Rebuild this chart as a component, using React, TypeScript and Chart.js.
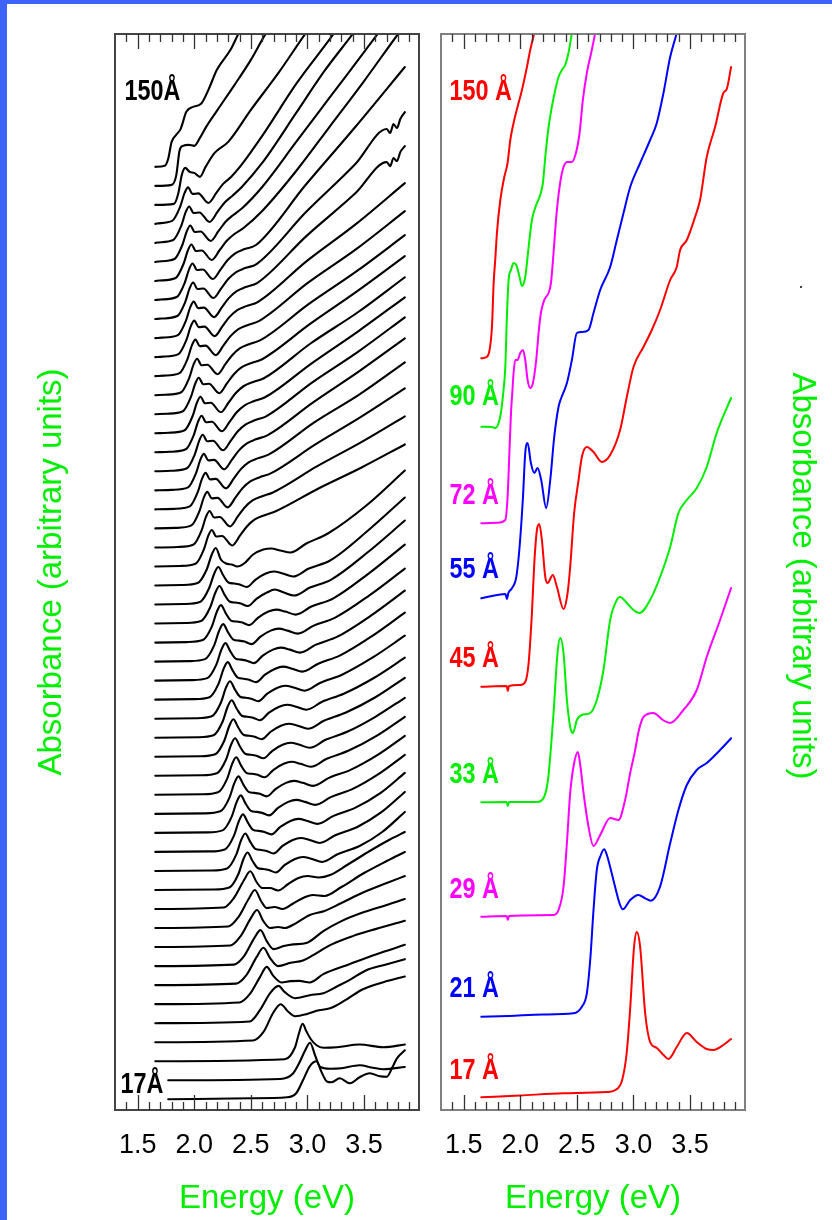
import React, { useEffect, useRef } from "react";
import { Chart, registerables } from "chart.js";

Chart.register(...registerables);

// ---------- axes ----------
const E_MIN = 1.3;
const E_MAX = 3.985;
const Y_MAX = 1076; // arbitrary absorbance units (stacked)
const TICKS_ALL = [1.4, 1.5, 1.6, 1.7, 1.8, 1.9, 2.0, 2.1, 2.2, 2.3, 2.4, 2.5, 2.6, 2.7, 2.8, 2.9, 3.0, 3.1, 3.2, 3.3, 3.4, 3.5, 3.6, 3.7, 3.8, 3.9];
const TICKS_MAJOR = [1.5, 2.0, 2.5, 3.0, 3.5];
const TICK_LABELS = ["1.5", "2.0", "2.5", "3.0", "3.5"];
const X_TITLE = "Energy (eV)";
const Y_TITLE = "Absorbance (arbitrary units)";

// ---------- left panel: 50 spectra, bottom (17 Å) to top (150 Å) ----------
// each row: [energy, absorbance above its own baseline, ...]
const LEFT_OFFSET0 = 10.7;
const LEFT_OFFSET_STEP = 19.03;
const LEFT_SPECTRA: number[][] = [
  [1.77,0, 2.5,1, 2.82,2, 2.9,6, 2.96,19, 3.02,33, 3.08,38, 3.125,27, 3.17,18, 3.21,17, 3.285,21, 3.375,16, 3.46,22, 3.55,26, 3.64,23, 3.7,22.5, 3.75,32, 3.79,41, 3.86,49],
  [1.77,0, 2.76,1.3, 2.87,6.5, 2.93,18, 2.98,30, 3.022,37.5, 3.07,24, 3.11,13.5, 3.2,11.5, 3.3,12, 3.46,15, 3.58,12.5, 3.67,11, 3.86,13.3],
  [1.656,0, 2.8,2, 2.89,14, 2.925,28, 2.957,37.5, 2.99,30, 3.03,22, 3.08,16, 3.14,13.5, 3.26,14, 3.46,16.7, 3.67,14, 3.86,16.7],
  [1.656,0, 2.52,1.7, 2.61,10, 2.7,30, 2.763,38, 2.83,30.5, 2.89,26, 2.99,28, 3.08,31.5, 3.2,34, 3.32,41, 3.49,53, 3.67,60, 3.86,65.7],
  [1.656,0, 2.49,1.7, 2.58,13, 2.67,30, 2.744,37.3, 2.8,31, 2.89,25, 3.02,28, 3.14,30, 3.26,36.7, 3.37,43, 3.52,53, 3.67,58, 3.86,64],
  [1.656,0, 2.4,1.7, 2.49,10, 2.58,27, 2.64,37.3, 2.7,28, 2.77,21.7, 2.85,23, 2.93,23.3, 3.02,21.7, 3.14,30, 3.37,40, 3.61,50, 3.86,59.3],
  [1.656,0, 2.37,1.5, 2.46,10, 2.55,28, 2.611,37.3, 2.67,27, 2.74,19, 2.85,22.3, 2.96,24.7, 3.05,30, 3.2,40, 3.4,49, 3.6,56, 3.86,64.3],
  [1.656,0, 2.35,1.5, 2.44,10, 2.53,28, 2.585,36, 2.64,25, 2.7,17, 2.79,20, 2.875,21.7, 2.99,23, 3.14,35, 3.3,45, 3.5,54, 3.7,61, 3.86,67],
  [1.656,0, 2.32,1.5, 2.41,11, 2.5,29, 2.555,37, 2.61,26, 2.67,19, 2.74,20, 2.8,19, 2.9,24, 3.02,32, 3.15,36, 3.3,44, 3.5,55, 3.7,64, 3.86,71],
  [1.656,0, 2.3,1.5, 2.39,11, 2.48,29, 2.535,38, 2.59,27, 2.64,20, 2.71,21, 2.78,19, 2.88,25, 2.98,31, 3.05,33, 3.15,32, 3.3,41, 3.5,55, 3.7,67, 3.86,76],
  [1.656,0, 2.26,1.5, 2.35,11, 2.44,29, 2.495,37.7, 2.55,27, 2.6,21, 2.67,21, 2.74,18.5, 2.83,25, 2.92,31, 3.0,33, 3.1,31.5, 3.2,34, 3.35,44, 3.55,58, 3.72,69, 3.86,77],
  [1.656,0, 2.17,0.5, 2.31,2.5, 2.39,16, 2.435,31, 2.47,37.5, 2.515,29, 2.56,22, 2.61,21, 2.66,20, 2.72,17.5, 2.8,25, 2.89,31, 2.96,33, 3.04,31, 3.13,28, 3.27,36, 3.46,44, 3.66,58, 3.86,78],
  [1.656,0, 2.15,0.5, 2.29,2.5, 2.37,16, 2.415,31, 2.45,37.5, 2.495,29, 2.54,22, 2.59,21, 2.64,20, 2.7,17.5, 2.78,25, 2.87,31, 2.94,33, 3.02,31, 3.11,28, 3.25,36, 3.44,44, 3.65,58.5, 3.86,79],
  [1.656,0, 2.13,0.5, 2.27,2.5, 2.35,16, 2.395,31, 2.43,37.5, 2.475,29, 2.52,22, 2.57,21, 2.62,20, 2.68,17.5, 2.76,25, 2.85,31, 2.92,33, 3.0,31, 3.09,28, 3.23,36, 3.42,44, 3.64,58.5, 3.86,79],
  [1.656,0, 2.11,0.5, 2.25,2.5, 2.33,16, 2.375,31, 2.41,37.5, 2.455,29, 2.5,22, 2.55,21, 2.6,20, 2.66,17.5, 2.74,25, 2.83,31, 2.9,33, 2.98,31, 3.07,28, 3.21,36, 3.4,44, 3.63,59, 3.86,78],
  [1.656,0, 2.09,0.5, 2.23,2.5, 2.31,16, 2.355,31, 2.39,37.5, 2.435,29, 2.48,22, 2.53,21, 2.58,20, 2.64,17.5, 2.72,25, 2.81,31, 2.88,33, 2.96,31, 3.05,28, 3.19,36, 3.38,44, 3.62,59, 3.86,78],
  [1.656,0, 2.07,0.5, 2.21,2.5, 2.29,16, 2.335,31, 2.37,37.5, 2.415,29, 2.46,22, 2.51,21, 2.56,20, 2.62,17.5, 2.7,25, 2.79,31, 2.86,33, 2.94,31, 3.03,28, 3.17,36, 3.36,44, 3.61,59, 3.86,78],
  [1.656,0, 2.06,0.5, 2.2,2.5, 2.28,16, 2.325,31, 2.36,37.5, 2.405,29, 2.45,22, 2.5,21, 2.55,20, 2.61,17.5, 2.69,25, 2.78,31, 2.85,33, 2.93,31, 3.02,28, 3.16,36, 3.35,44, 3.6,59, 3.86,78],
  [1.656,0, 2.045,0.5, 2.185,2.5, 2.265,16, 2.31,31, 2.345,37.5, 2.39,29, 2.435,22, 2.485,21, 2.535,20, 2.595,17.5, 2.675,25, 2.765,31, 2.835,33, 2.915,31, 3.005,28, 3.145,36, 3.335,44, 3.6,59.5, 3.86,79],
  [1.656,0, 2.03,0.5, 2.17,2.5, 2.25,16, 2.295,31, 2.33,37.5, 2.375,29, 2.42,22, 2.47,21, 2.52,20, 2.58,17.5, 2.66,25, 2.75,31, 2.82,33, 2.9,31, 2.99,28, 3.13,36, 3.32,44, 3.59,60, 3.86,80],
  [1.656,0, 2.015,0.5, 2.155,2.5, 2.235,16, 2.28,31, 2.315,37.5, 2.36,29, 2.405,22, 2.455,21, 2.505,20, 2.565,17.5, 2.645,25, 2.735,31, 2.805,33, 2.885,31, 2.975,28, 3.115,36, 3.305,44, 3.58,61.5, 3.86,83],
  [1.656,0, 1.995,0.5, 2.135,2.5, 2.215,16, 2.26,31, 2.295,37.5, 2.34,29, 2.385,22, 2.435,21, 2.485,20, 2.545,17.5, 2.625,25, 2.715,31, 2.785,33, 2.865,31, 2.955,28, 3.095,36, 3.285,44, 3.57,63.5, 3.86,87],
  [1.656,0, 1.975,0.5, 2.115,2.5, 2.195,16, 2.24,31, 2.275,37.5, 2.32,29, 2.365,22, 2.415,21, 2.465,20, 2.525,17.5, 2.605,25, 2.695,31, 2.765,33, 2.845,31, 2.935,28, 3.075,36, 3.265,44, 3.56,65, 3.86,90],
  [1.656,0, 1.955,0.5, 2.095,2.5, 2.175,16, 2.22,31, 2.255,37.5, 2.3,29, 2.345,22, 2.395,21, 2.445,20, 2.505,17.5, 2.585,25, 2.675,31, 2.745,33, 2.825,31, 2.915,28, 3.055,36, 3.245,44, 3.55,66.5, 3.86,93],
  [1.656,0, 1.935,0.5, 2.075,2.5, 2.155,16, 2.2,31, 2.235,37.5, 2.28,29, 2.325,22, 2.375,21, 2.425,20, 2.485,17.5, 2.565,25, 2.655,31, 2.725,33, 2.805,31, 2.895,28, 3.035,36, 3.225,44, 3.54,69, 3.86,98],
  [1.656,0, 1.92,0.5, 2.06,2.5, 2.14,16, 2.187,31, 2.222,37.5, 2.267,29, 2.312,22, 2.362,21, 2.412,20, 2.472,17.5, 2.552,25, 2.642,31, 2.712,34, 2.792,31, 2.882,28, 3.022,36, 3.21,44, 3.535,71.5, 3.86,103],
  [1.656,0, 1.91,0.5, 2.05,2.5, 2.13,16, 2.177,31, 2.212,37.5, 2.257,29, 2.302,22, 2.352,21, 2.402,20, 2.462,17.5, 2.542,25, 2.632,31, 2.702,33, 2.782,31, 2.872,28, 3.012,36, 3.2,44, 3.53,73.5, 3.86,107],
  [1.656,0, 1.89,0.5, 2.03,2.5, 2.11,16, 2.155,31, 2.19,37.5, 2.235,26, 2.28,22, 2.33,21, 2.38,19, 2.44,22, 2.52,31, 2.61,36, 2.68,37, 2.76,35, 2.85,33, 2.99,42, 3.18,52, 3.52,80, 3.86,115],
  [1.656,0, 1.875,0.5, 2.015,3, 2.085,17, 2.125,31, 2.155,36.5, 2.195,30, 2.245,30.5, 2.335,21, 2.405,31, 2.465,40, 2.535,47, 2.615,51, 2.715,55, 3.097,78, 3.478,99, 3.86,122],
  [1.656,0, 1.855,0.5, 1.995,3, 2.065,17, 2.105,31, 2.135,36.5, 2.175,30, 2.225,30.5, 2.315,21, 2.385,31, 2.445,40, 2.515,47, 2.595,51, 2.695,55, 3.083,81, 3.472,105, 3.86,131],
  [1.656,0, 1.835,0.5, 1.975,3, 2.045,17, 2.085,31, 2.115,36.5, 2.155,30, 2.205,30.5, 2.295,21, 2.365,31, 2.425,40, 2.495,47, 2.575,51, 2.675,55, 3.07,84, 3.465,111, 3.86,140],
  [1.656,0, 1.82,0.5, 1.96,3, 2.03,17, 2.07,31, 2.1,36.5, 2.14,30, 2.19,30.5, 2.28,21, 2.35,31, 2.41,40, 2.48,47, 2.56,51, 2.66,55, 3.06,87, 3.46,115, 3.86,147],
  [1.656,0, 1.805,0.5, 1.945,3, 2.015,17, 2.055,31, 2.085,36.5, 2.125,30, 2.175,30.5, 2.265,21, 2.335,31, 2.395,40, 2.465,47, 2.545,51, 2.645,55, 3.05,88, 3.455,119, 3.86,152],
  [1.656,0, 1.795,0.5, 1.935,3, 2.005,17, 2.045,31, 2.075,36.5, 2.115,30, 2.165,30.5, 2.255,21, 2.325,31, 2.385,40, 2.455,47, 2.535,51, 2.635,55, 3.043,89, 3.452,120, 3.86,154],
  [1.656,0, 1.785,0.5, 1.925,3, 1.995,17, 2.035,31, 2.065,36.5, 2.105,30, 2.155,30.5, 2.245,21, 2.315,31, 2.375,40, 2.445,47, 2.525,51, 2.625,55, 3.037,89, 3.448,121, 3.86,155],
  [1.656,0, 1.775,0.5, 1.915,3, 1.985,17, 2.025,31, 2.055,36.5, 2.095,30, 2.145,30.5, 2.235,21, 2.305,31, 2.365,40, 2.435,47, 2.515,51, 2.615,55, 3.03,90, 3.445,121, 3.86,156],
  [1.656,0, 1.76,0.5, 1.9,3, 1.97,17, 2.01,31, 2.04,36.5, 2.08,30, 2.13,30.5, 2.22,21, 2.29,31, 2.35,40, 2.42,47, 2.5,51, 2.6,55, 3.02,90, 3.44,123, 3.86,158],
  [1.656,0, 1.745,0.5, 1.885,3, 1.955,17, 1.995,31, 2.025,36.5, 2.065,30, 2.115,30.5, 2.205,21, 2.275,31, 2.335,40, 2.405,47, 2.485,51, 2.585,55, 3.01,91, 3.435,124, 3.86,160],
  [1.656,0, 1.73,0.5, 1.87,3, 1.94,17, 1.98,31, 2.01,36.5, 2.05,30, 2.1,30.5, 2.19,21, 2.26,31, 2.32,40, 2.39,47, 2.47,51, 2.57,55, 3.0,93, 3.43,127, 3.86,165],
  [1.656,0, 1.72,0.5, 1.86,3, 1.93,17, 1.97,31, 2.0,36.5, 2.04,30, 2.09,30.5, 2.18,21, 2.25,31, 2.31,40, 2.38,47, 2.46,51, 2.56,55, 2.993,96, 3.427,133, 3.86,174],
  [1.656,0, 1.715,0.5, 1.855,3, 1.925,17, 1.965,31, 1.995,36.5, 2.035,30, 2.085,30.5, 2.175,21, 2.245,31, 2.305,40, 2.375,47, 2.455,51, 2.555,55, 2.99,102, 3.425,145, 3.7,176, 3.73,172, 3.76,180, 3.79,177, 3.82,186, 3.86,192],
  [1.656,0, 1.71,0.5, 1.85,3, 1.92,17, 1.96,31, 1.99,36.5, 2.03,30, 2.08,30.5, 2.17,21, 2.24,31, 2.3,40, 2.37,47, 2.45,51, 2.55,55, 2.987,107, 3.423,155, 3.7,190, 3.73,186, 3.76,195, 3.79,191, 3.82,200, 3.86,207],
  [1.656,0, 1.705,0.5, 1.845,3, 1.915,17, 1.955,31, 1.985,36.5, 2.025,30, 2.075,30.5, 2.165,21, 2.235,31, 2.295,40, 2.365,47, 2.445,51, 2.545,55, 2.983,115, 3.422,173, 3.86,233],
  [1.656,0, 1.695,0.5, 1.835,3, 1.905,17, 1.945,31, 1.975,36.5, 2.015,30, 2.065,30.5, 2.155,21, 2.225,31, 2.285,40, 2.355,47, 2.435,53, 2.6,70, 2.9,110, 3.2,155, 3.5,200, 3.8,247, 3.86,256],
  [1.656,0, 1.685,0.5, 1.825,3, 1.895,17, 1.935,31, 1.965,36.5, 2.005,30, 2.055,30.5, 2.145,21, 2.215,31, 2.275,40, 2.345,47, 2.425,54, 2.6,75, 2.9,120, 3.2,165, 3.62,228, 3.86,265],
  [1.656,0, 1.675,0.5, 1.815,3, 1.885,17, 1.925,31, 1.955,36.5, 1.995,30, 2.045,30.5, 2.135,21, 2.205,31, 2.265,40, 2.335,47, 2.42,56, 2.6,80, 2.9,130, 3.15,172, 3.4,209, 3.7,255],
  [1.656,0, 1.67,0.5, 1.805,3, 1.875,17, 1.915,31, 1.945,36.5, 1.985,30, 2.035,30.5, 2.125,21, 2.195,31, 2.255,40, 2.325,47, 2.41,58, 2.6,88, 2.9,140, 3.23,190, 3.5,235],
  [1.656,0, 1.82,1, 1.86,12, 1.89,30, 1.92,37, 1.96,33, 2.0,32, 2.05,28, 2.1,38, 2.18,52, 2.3,63, 2.5,95, 2.75,133, 2.98,171, 3.2,205],
  [1.656,0, 1.8,1, 1.84,10, 1.87,35, 1.9,40, 1.95,41, 2.0,40, 2.05,48, 2.1,58, 2.2,75, 2.35,100, 2.5,126, 2.63,152, 2.8,180],
  [1.656,0, 1.74,1, 1.77,8, 1.8,25, 1.84,32, 1.88,38, 1.93,55, 1.99,60, 2.06,63, 2.125,77, 2.2,97, 2.32,117, 2.39,133, 2.5,155],
];
const LEFT_LABELS = ["17Å", "150Å"];
const LEFT_LABEL_AT = [[1.348, 17], [1.383, 1010]];

// ---------- right panel: 8 selected spectra (already offset) ----------
const RIGHT_NAMES = ["17 Å", "21 Å", "29 Å", "33 Å", "45 Å", "55 Å", "72 Å", "90 Å", "150 Å"];
const RIGHT_COLORS = ["#ff0000", "#0000ff", "#ff00ff", "#00ee00", "#ff0000", "#0000ff", "#ff00ff", "#00ee00", "#ff0000"];
const RIGHT_LABEL_AT = [[1.374, 31], [1.374, 113], [1.374, 212], [1.374, 327], [1.374, 443], [1.374, 532], [1.374, 606], [1.374, 705], [1.374, 1010]];
const R17 = [1.656,12.7, 2.0,14.5, 2.38,16.7, 2.765,18, 2.84,20, 2.9,30, 2.94,57, 2.97,100, 3.005,163, 3.029,178, 3.059,163, 3.103,97, 3.147,68, 3.206,62, 3.265,55, 3.309,51, 3.382,63, 3.471,77, 3.559,68, 3.647,61, 3.706,60, 3.794,65, 3.862,71];
const R21 = [1.656,93.3, 1.9,94, 2.2,95.5, 2.47,96.7, 2.544,103.3, 2.588,116.7, 2.618,150, 2.647,200, 2.676,240, 2.712,255, 2.741,260.7, 2.765,255, 2.794,243, 2.838,223, 2.882,205, 2.906,200.7, 2.971,210, 3.044,215, 3.103,211.7, 3.153,209.3, 3.235,223.3, 3.324,266.7, 3.397,300, 3.471,325, 3.559,340, 3.647,347, 3.765,360, 3.862,371.7];
const R29 = [1.656,193.3, 1.88,194, 1.89,190, 1.9,194, 2.294,195, 2.338,200, 2.382,223, 2.412,267, 2.441,317, 2.476,347, 2.509,358, 2.53,345, 2.559,317, 2.603,283, 2.647,264, 2.706,275, 2.794,292, 2.868,290, 2.926,310, 2.971,337, 3.015,360, 3.044,378, 3.088,393, 3.176,397, 3.26,390, 3.324,387, 3.441,400, 3.559,420, 3.647,453, 3.765,490, 3.862,522];
const R33 = [1.656,307.7, 1.88,308, 1.89,304, 1.9,308, 2.147,308, 2.206,312, 2.235,323, 2.25,335, 2.294,397, 2.329,457, 2.353,472, 2.382,457, 2.412,410, 2.441,383, 2.465,377, 2.5,390, 2.544,395, 2.618,397, 2.676,410, 2.735,440, 2.794,490, 2.853,510, 2.882,513, 2.941,507, 3.0,500, 3.053,497, 3.147,510, 3.235,533, 3.324,563, 3.397,597, 3.471,610, 3.559,622, 3.647,643, 3.735,677, 3.862,712];
const R45 = [1.656,423.3, 1.88,424, 1.89,419, 1.9,424, 2.0,425, 2.044,428, 2.074,447, 2.103,497, 2.124,547, 2.147,580, 2.168,586, 2.191,570, 2.221,533, 2.241,527, 2.288,535, 2.324,523, 2.382,501, 2.418,517, 2.441,543, 2.476,597, 2.515,630, 2.544,653, 2.588,663, 2.647,658, 2.721,648, 2.794,655, 2.882,680, 2.941,713, 3.0,743, 3.088,763, 3.162,780, 3.235,800, 3.324,830, 3.382,843, 3.412,860, 3.471,870, 3.544,893, 3.588,910, 3.647,953, 3.721,983, 3.794,1017, 3.824,1021, 3.862,1043];
const R55 = [1.656,511.7, 1.87,516, 1.882,511, 1.895,517, 1.926,521.7, 1.965,533, 1.994,563, 2.024,613, 2.044,657, 2.065,667, 2.094,647, 2.124,637, 2.153,642, 2.185,630, 2.229,602, 2.265,630, 2.3,673, 2.338,703, 2.362,712, 2.412,727, 2.456,750, 2.5,777, 2.544,778, 2.603,780, 2.647,797, 2.706,820, 2.794,843, 2.853,870, 2.912,897, 2.971,923, 3.059,947, 3.147,970, 3.206,987, 3.265,1017, 3.324,1053, 3.382,1077, 3.45,1110];
const R72 = [1.656,586.7, 1.8,587.3, 1.868,590, 1.888,613, 1.906,663, 1.918,697, 1.929,716, 1.941,737, 1.956,750, 1.976,750, 2.0,757, 2.024,760, 2.044,750, 2.065,730, 2.088,722, 2.112,727, 2.141,750, 2.162,777, 2.182,797, 2.212,810, 2.25,817, 2.271,827, 2.294,857, 2.318,893, 2.347,923, 2.382,943, 2.418,948, 2.456,948, 2.494,958, 2.524,977, 2.553,1010, 2.588,1037, 2.632,1060, 2.662,1077, 2.72,1110];
const R90 = [1.656,683.3, 1.75,683, 1.78,682, 1.809,687, 1.829,697, 1.845,712, 1.868,743, 1.882,793, 1.897,830, 1.918,840, 1.941,847, 1.965,845, 1.994,833, 2.015,824, 2.044,833, 2.074,863, 2.103,890, 2.141,905, 2.176,915, 2.2,927, 2.221,953, 2.25,983, 2.279,1003, 2.309,1020, 2.338,1033, 2.368,1040, 2.397,1045, 2.426,1057, 2.456,1077, 2.5,1105];
const R150 = [1.656,751.7, 1.706,753.3, 1.729,760, 1.75,783, 1.765,827, 1.779,850, 1.794,877, 1.824,910, 1.859,933, 1.888,947, 1.912,970, 1.941,987, 1.976,1003, 2.015,1020, 2.059,1043, 2.088,1060, 2.124,1077, 2.17,1100];
const RIGHT_SPECTRA = [R17, R21, R29, R33, R45, R55, R72, R90, R150];

const FONT = "'Liberation Sans', Arial, Helvetica, sans-serif";
const GREEN = "#00ee00";

function toPoints(flat: number[], offset: number) {
  const pts: { x: number; y: number }[] = [];
  for (let k = 0; k < flat.length; k += 2) pts.push({ x: flat[k], y: flat[k + 1] + offset });
  return pts;
}

function decor(opts: {
  frame: string;
  labels: string[];
  labelAt: number[][];
  labelColors: string[];
  yTitleSide: "left" | "right";
}) {
  return {
    id: "decor",
    afterDraw(chart: any) {
      const { ctx, chartArea: a, scales } = chart;
      const xs = scales.x;
      const ys = scales.y;
      ctx.save();
      ctx.strokeStyle = opts.frame;
      ctx.lineWidth = 2;
      ctx.strokeRect(a.left, a.top, a.right - a.left, a.bottom - a.top);
      ctx.strokeStyle = "#333";
      ctx.lineWidth = 1.3;
      for (const t of TICKS_ALL) {
        const x = Math.round(xs.getPixelForValue(t)) + 0.5;
        const len = TICKS_MAJOR.includes(t) ? 15 : 8;
        ctx.beginPath();
        ctx.moveTo(x, a.top);
        ctx.lineTo(x, a.top + len);
        ctx.moveTo(x, a.bottom);
        ctx.lineTo(x, a.bottom - len);
        ctx.stroke();
      }
      ctx.fillStyle = "#000";
      ctx.font = `27px ${FONT}`;
      ctx.textAlign = "center";
      ctx.textBaseline = "alphabetic";
      TICKS_MAJOR.forEach((t, i) => {
        ctx.fillText(TICK_LABELS[i], xs.getPixelForValue(t), a.bottom + 43);
      });
      ctx.fillStyle = GREEN;
      ctx.font = `33px ${FONT}`;
      ctx.fillText(X_TITLE, (a.left + a.right) / 2, a.bottom + 98);
      ctx.save();
      if (opts.yTitleSide === "left") {
        ctx.translate(a.left - 54, (a.top + a.bottom) / 2);
        ctx.rotate(-Math.PI / 2);
      } else {
        ctx.translate(a.right + 48, (a.top + a.bottom) / 2 + 4);
        ctx.rotate(Math.PI / 2);
      }
      ctx.fillText(Y_TITLE, 0, 0);
      ctx.restore();
      ctx.font = `bold 30px ${FONT}`;
      ctx.textAlign = "left";
      opts.labels.forEach((txt, i) => {
        const [e, v] = opts.labelAt[i];
        ctx.save();
        ctx.translate(xs.getPixelForValue(e), ys.getPixelForValue(v));
        ctx.scale(0.78, 1);
        ctx.fillStyle = opts.labelColors[i];
        ctx.fillText(txt, 0, 0);
        ctx.restore();
      });
      ctx.restore();
    },
  };
}

function baseOptions(padLeft: number, padRight: number) {
  return {
    animation: false,
    responsive: false,
    maintainAspectRatio: false,
    devicePixelRatio: 1,
    events: [],
    layout: { padding: { left: padLeft, right: padRight, top: 34, bottom: 110 } },
    plugins: { legend: { display: false }, tooltip: { enabled: false } },
    elements: { point: { radius: 0 }, line: { borderJoinStyle: "round", borderCapStyle: "round" } },
    scales: {
      x: { type: "linear", min: E_MIN, max: E_MAX, display: false },
      y: { type: "linear", min: 0, max: Y_MAX, display: false },
    },
  };
}

export default function App() {
  const leftRef = useRef<HTMLCanvasElement>(null);
  const rightRef = useRef<HTMLCanvasElement>(null);

  useEffect(() => {
    const left = new Chart(leftRef.current as HTMLCanvasElement, {
      type: "line",
      data: {
        datasets: LEFT_SPECTRA.map((s, i) => ({
          data: toPoints(s, LEFT_OFFSET0 + LEFT_OFFSET_STEP * i),
          borderColor: "#000",
          borderWidth: 2.1,
          pointRadius: 0,
          fill: false,
          cubicInterpolationMode: "monotone",
        })),
      },
      options: baseOptions(115, 832 - 419) as any,
      plugins: [
        decor({ frame: "#444", labels: LEFT_LABELS, labelAt: LEFT_LABEL_AT, labelColors: ["#000", "#000"], yTitleSide: "left" }),
      ],
    });
    const right = new Chart(rightRef.current as HTMLCanvasElement, {
      type: "line",
      data: {
        datasets: RIGHT_SPECTRA.map((s, i) => ({
          data: toPoints(s, 0),
          borderColor: RIGHT_COLORS[i],
          borderWidth: 2,
          pointRadius: 0,
          fill: false,
          cubicInterpolationMode: "monotone",
        })),
      },
      options: baseOptions(441, 832 - 745) as any,
      plugins: [
        decor({ frame: "#808080", labels: RIGHT_NAMES, labelAt: RIGHT_LABEL_AT, labelColors: RIGHT_COLORS, yTitleSide: "right" }),
      ],
    });
    return () => {
      left.destroy();
      right.destroy();
    };
  }, []);

  const abs: React.CSSProperties = { position: "absolute", left: 0, top: 0 };
  return (
    <div style={{ position: "absolute", left: 0, top: 0, width: 832, height: 1220, background: "#fff", overflow: "hidden" }}>
      <canvas ref={leftRef} width={832} height={1220} style={{ ...abs, width: 832, height: 1220 }} />
      <canvas ref={rightRef} width={832} height={1220} style={{ ...abs, width: 832, height: 1220 }} />
      <div style={{ ...abs, width: 7, height: 1220, background: "#3d63f8" }} />
      <div style={{ ...abs, width: 832, height: 4, background: "#3d63f8" }} />
      <div style={{ position: "absolute", left: 800, top: 286, width: 2, height: 2, background: "#000", borderRadius: 1 }} />
    </div>
  );
}
